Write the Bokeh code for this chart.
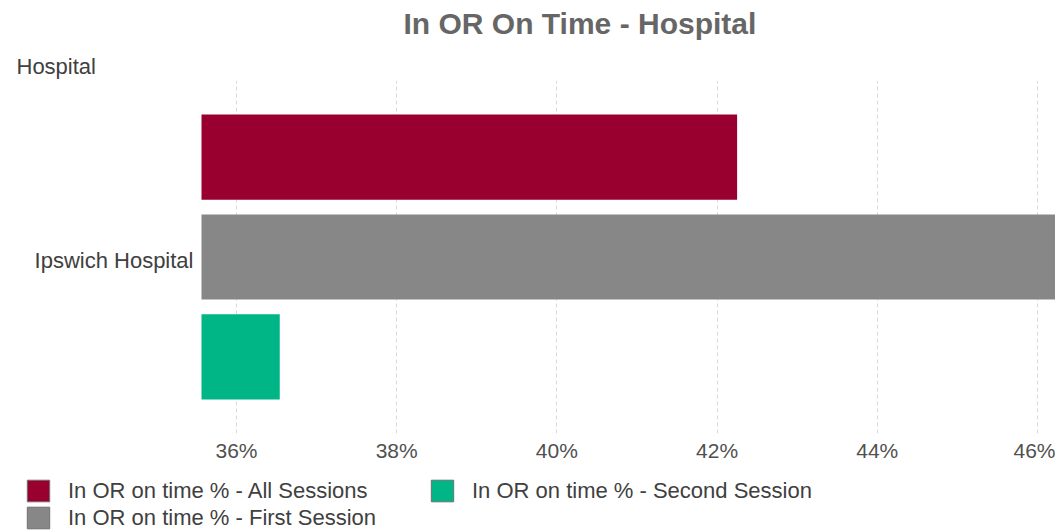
from bokeh.plotting import figure
from bokeh.models import (FactorRange, Range1d, FixedTicker, NumeralTickFormatter,
                          Label, Legend, LegendItem, ColumnDataSource)
from bokeh.core.properties import value
from bokeh.layouts import column
from bokeh.transform import dodge
from bokeh.embed import file_html
from bokeh.resources import INLINE

# ---- data ----
hospitals = ["Ipswich Hospital"]
series_names = ["In OR on time % - All Sessions",
                "In OR on time % - First Session",
                "In OR on time % - Second Session"]
all_sessions = [0.4225]
first_session = [0.470]
second_session = [0.3654]
x_ticks = [0.36, 0.38, 0.40, 0.42, 0.44, 0.46]
axis_min = 0.35563   # value axis starts here (bars grow from it)
axis_max = 0.46225

colors = ["#99002F", "#878787", "#00B586"]
FONT = "Liberation Sans"
W = 1055
PX_PER_UNIT = 801.0 / 0.10   # 80.1 px per 1 %
LEFT_GUTTER = 201             # px taken by category labels

src = ColumnDataSource(dict(hospital=hospitals, all_s=all_sessions,
                            first_s=first_session, second_s=second_session,
                            base=[axis_min] * len(hospitals)))

# ---- header (title + axis title) ----
HD_H = 80
hd = figure(width=W, height=HD_H, output_backend="svg", toolbar_location=None,
            x_range=Range1d(0, 1), y_range=Range1d(0, 1),
            x_axis_type=None, y_axis_type=None,
            min_border_left=0, min_border_right=0, min_border_top=0, min_border_bottom=0)
hd.outline_line_color = None
hd.xgrid.grid_line_color = None
hd.ygrid.grid_line_color = None
hd.add_layout(Label(x=403, y=HD_H - 32 + 9, x_units="screen", y_units="screen",
                    text="In OR  On Time - Hospital", text_align="left",
                    text_baseline="alphabetic", text_font=FONT, text_font_size="30px",
                    text_font_style="bold", text_color="#666666"))
hd.add_layout(Label(x=16, y=HD_H - 75 + 9, x_units="screen", y_units="screen",
                    text="Hospital", text_align="left", text_baseline="alphabetic",
                    text_font=FONT, text_font_size="22px", text_color="#404040"))

# ---- main plot ----
x_start = axis_min - LEFT_GUTTER / PX_PER_UNIT
p = figure(width=W, height=390, output_backend="svg", toolbar_location=None,
           y_range=FactorRange(factors=hospitals, range_padding=0),
           x_range=Range1d(x_start, axis_max),
           min_border_left=0, min_border_right=0, min_border_top=0, min_border_bottom=37)
p.outline_line_color = None

bar_h = 0.241
offs = [0.283, 0.0, -0.283]
fields = ["all_s", "first_s", "second_s"]
for f, off, c in zip(fields, offs, colors):
    p.hbar(y=dodge("hospital", off, range=p.y_range), right=f, left="base",
           height=bar_h, source=src, fill_color=c, line_color=None)

# category labels
p.text(x="base", y="hospital", text="hospital", source=src, x_offset=-8, y_offset=3,
       text_align="right", text_baseline="middle", text_font=value(FONT),
       text_font_size="22px", text_color="#404040")

p.yaxis.visible = False
p.xaxis.ticker = FixedTicker(ticks=x_ticks)
p.xaxis.formatter = NumeralTickFormatter(format="0%")
p.xaxis.axis_line_color = None
p.xaxis.major_tick_line_color = None
p.xaxis.minor_tick_line_color = None
p.xaxis.major_tick_out = 0
p.xaxis.major_tick_in = 0
p.xaxis.minor_tick_out = 0
p.xaxis.major_label_standoff = 5
p.xaxis.major_label_text_font = FONT
p.xaxis.major_label_text_font_size = "21px"
p.xaxis.major_label_text_color = "#505050"

p.ygrid.grid_line_color = None
p.xgrid.ticker = FixedTicker(ticks=x_ticks)
p.xgrid.grid_line_color = "#d9d9d9"
p.xgrid.grid_line_dash = "4 3"
p.xgrid.grid_line_width = 1

# ---- legend strip ----
lg = figure(width=W, height=60, output_backend="svg", toolbar_location=None,
            x_range=Range1d(0, 0.01), y_range=FactorRange(factors=hospitals),
            x_axis_type=None, y_axis_type=None,
            min_border_left=0, min_border_right=0, min_border_top=0, min_border_bottom=0)
lg.outline_line_color = None
lg.xgrid.grid_line_color = None
lg.ygrid.grid_line_color = None

# legend swatches: same series, outside this strip's visible range
proxies = []
for f, c in zip(fields, colors):
    r = lg.hbar(y="hospital", right=f, left="base", height=0.5, source=src,
                fill_color=c, line_color="#707070", line_width=1)
    proxies.append(r)

legend = Legend(items=[LegendItem(label=series_names[0], renderers=[proxies[0]]),
                       LegendItem(label=series_names[1], renderers=[proxies[1]]),
                       LegendItem(label=series_names[2], renderers=[proxies[2]])],
                location=(24, -1), orientation="vertical", ncols=2,
                padding=0, margin=0, spacing=0, border_line_color=None,
                background_fill_alpha=0, glyph_width=28, glyph_height=27,
                label_height=27, label_width=360, label_standoff=16,
                label_text_font=FONT, label_text_font_size="22px",
                label_text_color="#404040")
lg.add_layout(legend, "center")

layout = column(hd, p, lg, spacing=0)
open("out.html", "w").write(file_html(layout, INLINE))
